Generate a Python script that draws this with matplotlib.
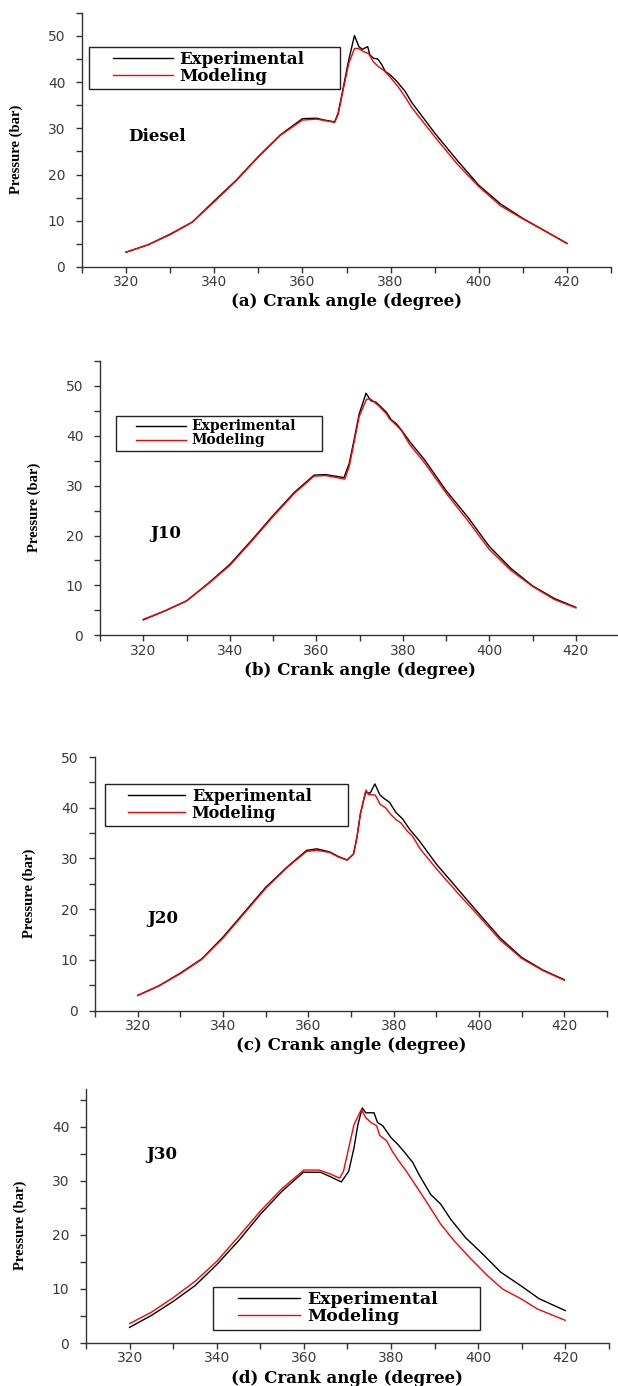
import numpy as np
import matplotlib
matplotlib.use("Agg")
import matplotlib.pyplot as plt
from matplotlib.ticker import MultipleLocator
from matplotlib.legend_handler import HandlerLine2D

# --- data (crank angle in degree, pressure in bar) ---
fuels = ["Diesel", "J10", "J20", "J30"]
xlabels = ["(a) Crank angle (degree)", "(b) Crank angle (degree)",
           "(c) Crank angle (degree)", "(d) Crank angle (degree)"]

exp_x_a = [320, 325, 330, 335, 340, 345, 350, 355, 360, 363.2, 365, 367.3, 368.1, 369.3, 370.5, 371.8,
           372.8, 373.6, 374.8, 375.3, 376.1, 377.1, 378.0, 378.8, 379.9, 381.4, 383.3, 384.8,
           390, 395, 400, 405, 410, 415, 420]
exp_y_a = [3.2, 4.8, 7.1, 9.7, 14.3, 18.8, 23.9, 28.6, 32.1, 32.2, 31.8, 31.4, 33.3, 39.0, 44.8, 50.1,
           47.7, 47.1, 47.7, 45.9, 45.2, 45.0, 43.8, 42.3, 41.6, 40.2, 38.0, 35.6,
           29.0, 23.2, 17.7, 13.6, 10.5, 7.8, 5.1]
mod_x_a = [320, 325, 330, 335, 340, 345, 350, 355, 360, 363.2, 365, 367.3, 368.1, 369.3, 370.5, 371.8,
           372.7, 373.9, 375.0, 376.1, 377.3, 378.4, 379.9, 381.8, 383.3, 384.8,
           390, 395, 400, 405, 410, 415, 420]
mod_y_a = [3.2, 4.8, 7.0, 9.7, 14.1, 18.7, 23.8, 28.5, 31.8, 32.0, 31.7, 31.3, 33.0, 38.6, 44.0, 47.3,
           47.3, 46.6, 46.2, 44.4, 43.3, 42.6, 41.1, 38.9, 36.8, 34.5,
           28.2, 22.4, 17.4, 13.2, 10.4, 7.8, 5.1]

exp_x_b = [320, 325, 330, 335, 340, 345, 350, 355, 359.5, 362.2, 366.4, 367.6, 368.7, 369.9, 371.5,
           372.6, 373.8, 375.0, 376.2, 377.3, 378.5, 379.7, 381.6, 385, 390, 395, 400, 405, 410, 415, 420]
exp_y_b = [3.1, 4.9, 6.9, 10.4, 14.2, 19.0, 24.0, 28.7, 32.1, 32.2, 31.6, 34.4, 39.0, 44.3, 48.5,
           47.0, 46.7, 45.7, 44.7, 43.2, 42.4, 41.1, 38.8, 35.2, 29.0, 23.7, 17.8, 13.4, 9.9, 7.4, 5.6]
mod_x_b = [320, 325, 330, 335, 340, 345, 350, 355, 359.5, 362.2, 366.6, 367.6, 368.7, 369.9, 371.6,
           372.6, 374.4, 376.2, 376.9, 378.5, 379.7, 381.6, 385, 390, 395, 400, 405, 410, 415, 420]
mod_y_b = [3.2, 4.9, 6.9, 10.3, 14.0, 18.8, 23.8, 28.5, 31.9, 32.0, 31.3, 33.8, 38.5, 43.8, 47.3,
           47.3, 46.0, 44.4, 43.4, 42.1, 41.0, 38.2, 34.6, 28.5, 23.0, 17.2, 13.0, 9.8, 7.2, 5.5]

exp_x_c = [320, 325, 330, 335, 340, 345, 350, 355, 359.6, 362.0, 365, 367, 369.1, 370.6, 371.4, 372.2,
           373.4, 374.5, 375.6, 376.8, 377.8, 379.0, 380.5, 382.1, 383.7, 386.0,
           390, 395, 400, 405, 410, 415, 420]
exp_y_c = [3.0, 4.9, 7.4, 10.2, 14.5, 19.4, 24.3, 28.3, 31.6, 31.9, 31.3, 30.4, 29.7, 30.9, 34.2, 38.8,
           43.0, 42.9, 44.7, 42.5, 41.8, 41.1, 39.1, 37.8, 35.8, 33.5,
           28.9, 24.0, 19.1, 14.3, 10.5, 8.0, 6.1]
mod_x_c = [320, 325, 330, 335, 340, 345, 350, 355, 359.6, 362.0, 365, 367, 369.1, 370.6, 371.4, 372.2,
           373.5, 374.1, 375.7, 376.8, 378.1, 379.3, 380.5, 381.7, 383.2, 384.4, 386.3,
           390, 395, 400, 405, 410, 415, 420]
mod_y_c = [3.0, 4.9, 7.3, 10.1, 14.3, 19.2, 24.1, 28.2, 31.4, 31.6, 31.2, 30.3, 29.7, 30.9, 34.2, 38.8,
           43.5, 42.6, 42.5, 40.7, 40.0, 38.7, 37.7, 37.0, 35.4, 34.4, 31.8,
           28.0, 23.2, 18.6, 13.9, 10.3, 7.9, 6.0]

exp_x_d = [320, 325, 330, 335, 340, 345, 350, 355, 359.9, 363.8, 366, 368.6, 370.3, 371.5, 372.4, 373.4,
           374.2, 376.1, 376.9, 378.1, 380.0, 381.5, 383.1, 385.0, 386.4, 389.1, 391.4, 393.7,
           397.1, 401.0, 405.2, 409.8, 414.0, 420]
exp_y_d = [2.9, 5.1, 7.7, 10.6, 14.5, 18.9, 23.8, 28.1, 31.6, 31.6, 30.8, 29.8, 31.8, 36.1, 40.4, 43.5,
           42.6, 42.6, 40.8, 40.2, 38.0, 36.8, 35.3, 33.4, 31.2, 27.5, 25.7, 22.9,
           19.5, 16.5, 13.1, 10.6, 8.2, 6.0]
mod_x_d = [320, 325, 330, 335, 340, 345, 350, 355, 360, 363.5, 366, 368.2, 369.1, 370.3, 371.5, 373.2,
           374.2, 375.4, 376.7, 377.4, 379.0, 380.2, 381.5, 383.5, 385.8, 388.0, 391.4, 394.5,
           398.3, 402.1, 405.6, 409.8, 413.6, 420]
mod_y_d = [3.6, 5.7, 8.4, 11.4, 15.1, 19.7, 24.4, 28.6, 32.0, 32.0, 31.3, 30.5, 31.8, 36.1, 40.4, 43.2,
           41.7, 40.8, 40.2, 38.4, 37.4, 35.6, 34.0, 31.8, 29.0, 26.3, 22.0, 18.9,
           15.6, 12.5, 10.0, 8.2, 6.3, 4.2]

exp_x = [exp_x_a, exp_x_b, exp_x_c, exp_x_d]
exp_y = [exp_y_a, exp_y_b, exp_y_c, exp_y_d]
mod_x = [mod_x_a, mod_x_b, mod_x_c, mod_x_d]
mod_y = [mod_y_a, mod_y_b, mod_y_c, mod_y_d]
ymax = [55, 55, 50, 47]

# layout of each panel (figure fractions), legend boxes and labels (axes / data coords)
axes_rect = [[0.1327, 0.8074, 0.856, 0.1833],
             [0.1618, 0.5416, 0.840, 0.1981],
             [0.1537, 0.2708, 0.8285, 0.1830],
             [0.1392, 0.0310, 0.846, 0.1833]]
legend_box = [(0.013, 0.700, 0.475, 0.166),
              (0.031, 0.656, 0.397, 0.143),
              (0.0195, 0.722, 0.4745, 0.173),
              (0.243, 0.039, 0.510, 0.182)]
legend_fs = [12, 10, 11.5, 12.5]
fuel_pos = [(320.5, 28.2), (321.6, 20.5), (322.3, 18.1), (323.9, 34.8)]


class IndentedLine(HandlerLine2D):
    # legend line that starts a bit to the right, like the original
    def create_artists(self, legend, orig_handle, xdescent, ydescent, width, height, fontsize, trans):
        arts = super().create_artists(legend, orig_handle, xdescent, ydescent, width, height, fontsize, trans)
        for a in arts:
            x = np.asarray(a.get_xdata(), dtype=float)
            if len(x) > 1:
                x[0] += 1.2 * fontsize
                a.set_xdata(x)
        return arts


fig = plt.figure(figsize=(6.18, 13.86), dpi=100)
tick_color = "#3a3a48"

for i in range(4):
    ax = fig.add_axes(axes_rect[i])
    l1, = ax.plot(exp_x[i], exp_y[i], color="black", lw=1.0, label="Experimental")
    l2, = ax.plot(mod_x[i], mod_y[i], color="#ff0000", lw=1.0, label="Modeling")

    ax.set_xlim(310, 430)
    ax.set_ylim(0, ymax[i])
    ax.xaxis.set_major_locator(MultipleLocator(20))
    ax.xaxis.set_minor_locator(MultipleLocator(10))
    ax.yaxis.set_major_locator(MultipleLocator(10))
    ax.yaxis.set_minor_locator(MultipleLocator(5))
    for s in ["top", "right"]:
        ax.spines[s].set_visible(False)
    for s in ["left", "bottom"]:
        ax.spines[s].set_color("#333333")
        ax.spines[s].set_linewidth(1.0)
    ax.tick_params(which="both", direction="out", length=4, width=1.0, color="#333333")
    ax.tick_params(axis="x", which="major", pad=2, labelsize=10, labelcolor=tick_color)
    ax.tick_params(axis="y", which="major", pad=8, labelsize=10, labelcolor=tick_color)

    ax.set_xlabel(xlabels[i], family="DejaVu Serif", fontweight="bold", fontsize=12)
    ax.xaxis.label.set_va("center")
    h_px = axes_rect[i][3] * 1386
    w_px = axes_rect[i][2] * 618
    ax.xaxis.set_label_coords(0.5, -35 / h_px)
    ax.set_ylabel("Pressure (bar)", family="Liberation Serif", fontweight="bold", fontsize=10.5)
    ax.yaxis.set_label_coords(-59 / w_px, 0.5 - 9 / h_px)

    ax.text(fuel_pos[i][0], fuel_pos[i][1], fuels[i], family="DejaVu Serif",
            fontweight="bold", fontsize=12, ha="left", va="center")

    leg = ax.legend(handles=[l1, l2], loc="upper left", bbox_to_anchor=legend_box[i],
                    mode="expand", borderaxespad=0, borderpad=0.25, handlelength=4.77,
                    handletextpad=0.42, labelspacing=0.0, fancybox=False, framealpha=1,
                    edgecolor="#222222", prop={"family": "DejaVu Serif", "weight": "bold",
                                               "size": legend_fs[i]},
                    handler_map={l1: IndentedLine(), l2: IndentedLine()})
    leg.get_frame().set_linewidth(1.0)

fig.savefig("out.png", dpi=100)
